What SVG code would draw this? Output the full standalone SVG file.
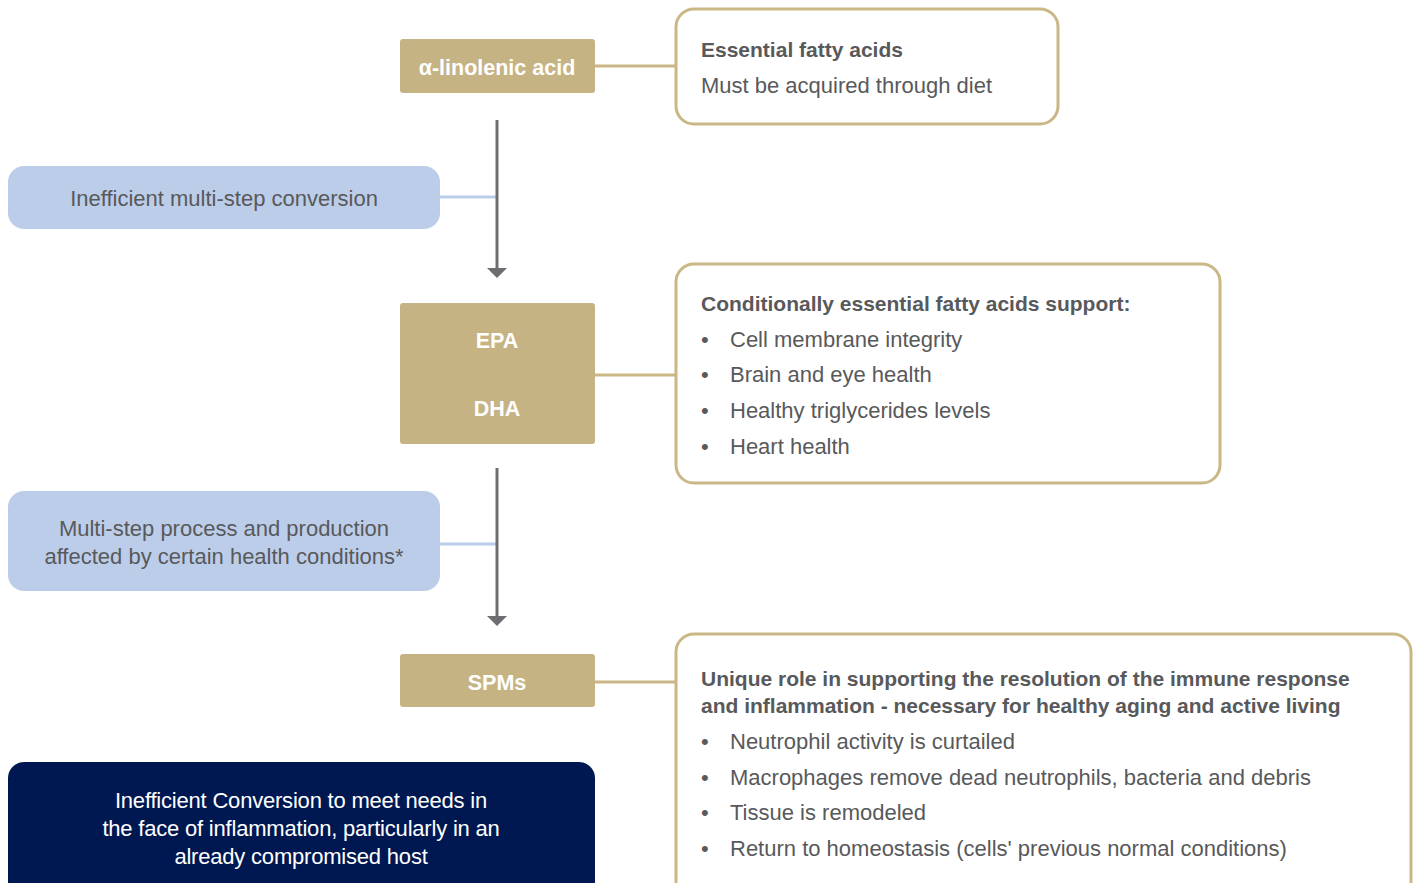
<svg xmlns="http://www.w3.org/2000/svg" width="1418" height="883" viewBox="0 0 1418 883">
<defs>
<style>
.tan{fill:#c6b384}
.card{fill:#fff;stroke:#c9b886;stroke-width:3}
.blue{fill:#bccde9}
.navy{fill:#001852}
.lbl{font-family:"Liberation Sans",Arial,sans-serif;font-weight:bold;font-size:21.5px;fill:#fff;text-anchor:middle}
.t{font-family:"Liberation Sans",Arial,sans-serif;font-size:22px;fill:#58595b}
.tb{font-family:"Liberation Sans",Arial,sans-serif;font-size:21px;fill:#58595b;font-weight:bold}
.c{text-anchor:middle}
.w{fill:#fff;letter-spacing:-0.2px}
.lt{stroke:#c9b886;stroke-width:3;fill:none}
.lb{stroke:#bccde9;stroke-width:3;fill:none}
.la{stroke:#6d6e71;stroke-width:3;fill:none}
</style>
</defs>
<rect width="1418" height="883" fill="#fff"/>
<g id="connectors">
<line class="lt" x1="595" y1="66" x2="676" y2="66"/>
<line class="lt" x1="595" y1="375" x2="676" y2="375"/>
<line class="lt" x1="595" y1="682" x2="676" y2="682"/>
<line class="lb" x1="440" y1="197" x2="497" y2="197"/>
<line class="lb" x1="440" y1="544" x2="497" y2="544"/>
<line class="la" x1="497" y1="120" x2="497" y2="268"/>
<path d="M487,268 L507,268 L497,278 Z" fill="#6d6e71"/>
<line class="la" x1="497" y1="468" x2="497" y2="616"/>
<path d="M487,616 L507,616 L497,626 Z" fill="#6d6e71"/>
</g>
<g id="ala">
<rect class="tan" x="400" y="39" width="195" height="54" rx="3"/>
<text class="lbl" x="497" y="75">α-linolenic acid</text>
</g>
<g id="essential">
<rect class="card" x="676" y="9" width="382" height="115" rx="18"/>
<text class="tb" x="701" y="57">Essential fatty acids</text>
<text class="t" x="701" y="93">Must be acquired through diet</text>
</g>
<g id="ineff1">
<rect class="blue" x="8" y="166" width="432" height="63" rx="16"/>
<text class="t c" x="224" y="206">Inefficient multi-step conversion</text>
</g>
<g id="epadha">
<rect class="tan" x="400" y="303" width="195" height="141" rx="3"/>
<text class="lbl" x="497" y="348">EPA</text>
<text class="lbl" x="497" y="416">DHA</text>
</g>
<g id="conditional">
<rect class="card" x="676" y="264" width="544" height="219" rx="18"/>
<text class="tb" x="701" y="311">Conditionally essential fatty acids support:</text>
<text class="t" x="701" y="347">•</text><text class="t" x="730" y="347">Cell membrane integrity</text>
<text class="t" x="701" y="382">•</text><text class="t" x="730" y="382">Brain and eye health</text>
<text class="t" x="701" y="418">•</text><text class="t" x="730" y="418">Healthy triglycerides levels</text>
<text class="t" x="701" y="454">•</text><text class="t" x="730" y="454">Heart health</text>
</g>
<g id="multistep">
<rect class="blue" x="8" y="491" width="432" height="100" rx="16"/>
<text class="t c" x="224" y="536">Multi-step process and production</text>
<text class="t c" x="224" y="564">affected by certain health conditions*</text>
</g>
<g id="spms">
<rect class="tan" x="400" y="654" width="195" height="53" rx="3"/>
<text class="lbl" x="497" y="690">SPMs</text>
</g>
<g id="unique">
<rect class="card" x="676" y="634" width="735" height="270" rx="18"/>
<text class="tb" x="701" y="686">Unique role in supporting the resolution of the immune response</text>
<text class="tb" x="701" y="713">and inflammation - necessary for healthy aging and active living</text>
<text class="t" x="701" y="749">•</text><text class="t" x="730" y="749">Neutrophil activity is curtailed</text>
<text class="t" x="701" y="785">•</text><text class="t" x="730" y="785">Macrophages remove dead neutrophils, bacteria and debris</text>
<text class="t" x="701" y="820">•</text><text class="t" x="730" y="820">Tissue is remodeled</text>
<text class="t" x="701" y="856">•</text><text class="t" x="730" y="856">Return to homeostasis (cells' previous normal conditions)</text>
</g>
<g id="conclusion">
<rect class="navy" x="8" y="762" width="587" height="140" rx="16"/>
<text class="t c w" x="301" y="808">Inefficient Conversion to meet needs in</text>
<text class="t c w" x="301" y="836">the face of inflammation, particularly in an</text>
<text class="t c w" x="301" y="864">already compromised host</text>
</g>
</svg>
